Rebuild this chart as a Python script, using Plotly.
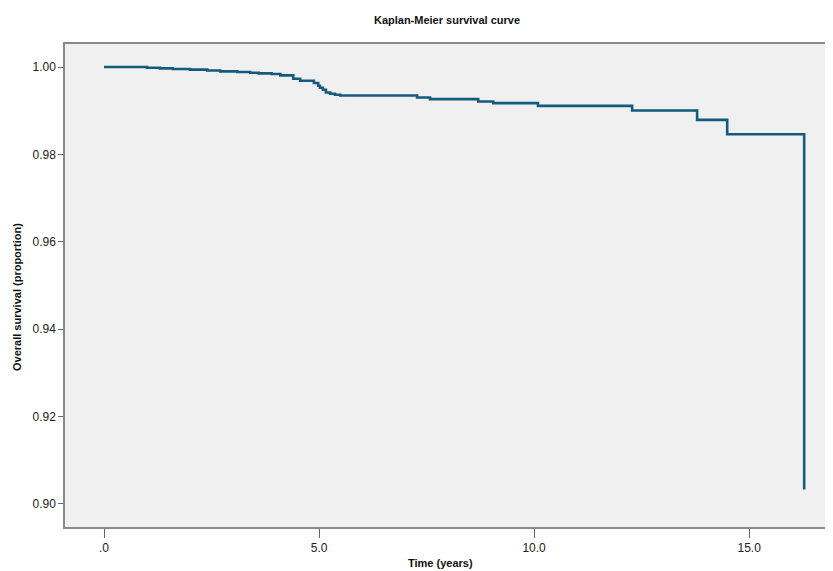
import plotly.graph_objects as go

# Kaplan-Meier step data (time in years, survival proportion)
time_years = [0.0, 1.0, 1.3, 1.6, 2.0, 2.4, 2.7, 3.1, 3.4, 3.6, 3.9, 4.1, 4.4, 4.56, 4.88,
              4.98, 5.02, 5.09, 5.16, 5.26, 5.37, 5.49, 7.28, 7.58, 8.70, 9.05, 10.09,
              12.28, 13.79, 14.49, 16.28]
survival = [1.0, 0.99985, 0.9997, 0.99955, 0.9994, 0.9992, 0.9990, 0.99885, 0.9987,
            0.99855, 0.9984, 0.9981, 0.99732, 0.99686, 0.99633, 0.99571, 0.99525,
            0.9948, 0.99417, 0.99388, 0.99365, 0.99349, 0.99303, 0.99266, 0.99211,
            0.99174, 0.99112, 0.99005, 0.98791, 0.98463, 0.9033]

x_tick_vals = [0, 5, 10, 15]
x_tick_text = [".0", "5.0", "10.0", "15.0"]
y_tick_vals = [0.90, 0.92, 0.94, 0.96, 0.98, 1.00]

FONT = "Liberation Sans, Arial, sans-serif"
OFF = 8  # page body margin offset
W, H = 833 - OFF, 571 - OFF
L, R, T, B = 65 - OFF, 0, 44 - OFF, 571 - 527


def px_to_paper_x(px):
    return (px - OFF - L) / (W - L - R)


def px_to_paper_y(py):
    return (H - B - (py - OFF)) / (H - T - B)


fig = go.Figure()
fig.add_trace(go.Scatter(
    x=time_years, y=survival, mode="lines",
    line=dict(shape="hv", color="#145a7c", width=2.6),
    showlegend=False, hoverinfo="x+y",
))

fig.update_layout(
    width=W, height=H,
    margin=dict(l=L, r=R, t=T, b=B, pad=0),
    paper_bgcolor="white",
    plot_bgcolor="#f0f0f0",
    font=dict(family=FONT, size=12, color="#222222"),
    title=dict(text="<b>Kaplan-Meier survival curve</b>", x=(447 - OFF) / W, xanchor="center",
               y=1 - (20 - OFF) / H, yanchor="middle", font=dict(size=11, color="#111111")),
    xaxis=dict(
        range=[-0.907, 16.95], tickvals=x_tick_vals, ticktext=x_tick_text,
        showgrid=False, zeroline=False, showline=True, linecolor="#8a8a8a", linewidth=1.5,
        mirror=True, ticks="outside", ticklen=9, tickcolor="#666666", tickwidth=1,
        tickfont=dict(size=12, color="#222222"),
    ),
    yaxis=dict(
        range=[0.89473, 1.00527], tickvals=y_tick_vals, tickformat=".2f",
        showgrid=False, zeroline=False, showline=True, linecolor="#8a8a8a", linewidth=1.5,
        ticks="outside", ticklen=5, tickcolor="#666666", tickwidth=1,
        tickfont=dict(size=12, color="#222222"),
    ),
    annotations=[
        dict(text="<b>Time (years)</b>", xref="paper", yref="paper",
             x=px_to_paper_x(440), y=px_to_paper_y(563), xanchor="center", yanchor="middle",
             showarrow=False, font=dict(size=11, color="#111111")),
        dict(text="<b>Overall survival (proportion)</b>", xref="paper", yref="paper",
             x=px_to_paper_x(17), y=px_to_paper_y(297), xanchor="center", yanchor="middle",
             textangle=-90, showarrow=False, font=dict(size=11, color="#111111")),
    ],
)

fig.write_html("out.html")
